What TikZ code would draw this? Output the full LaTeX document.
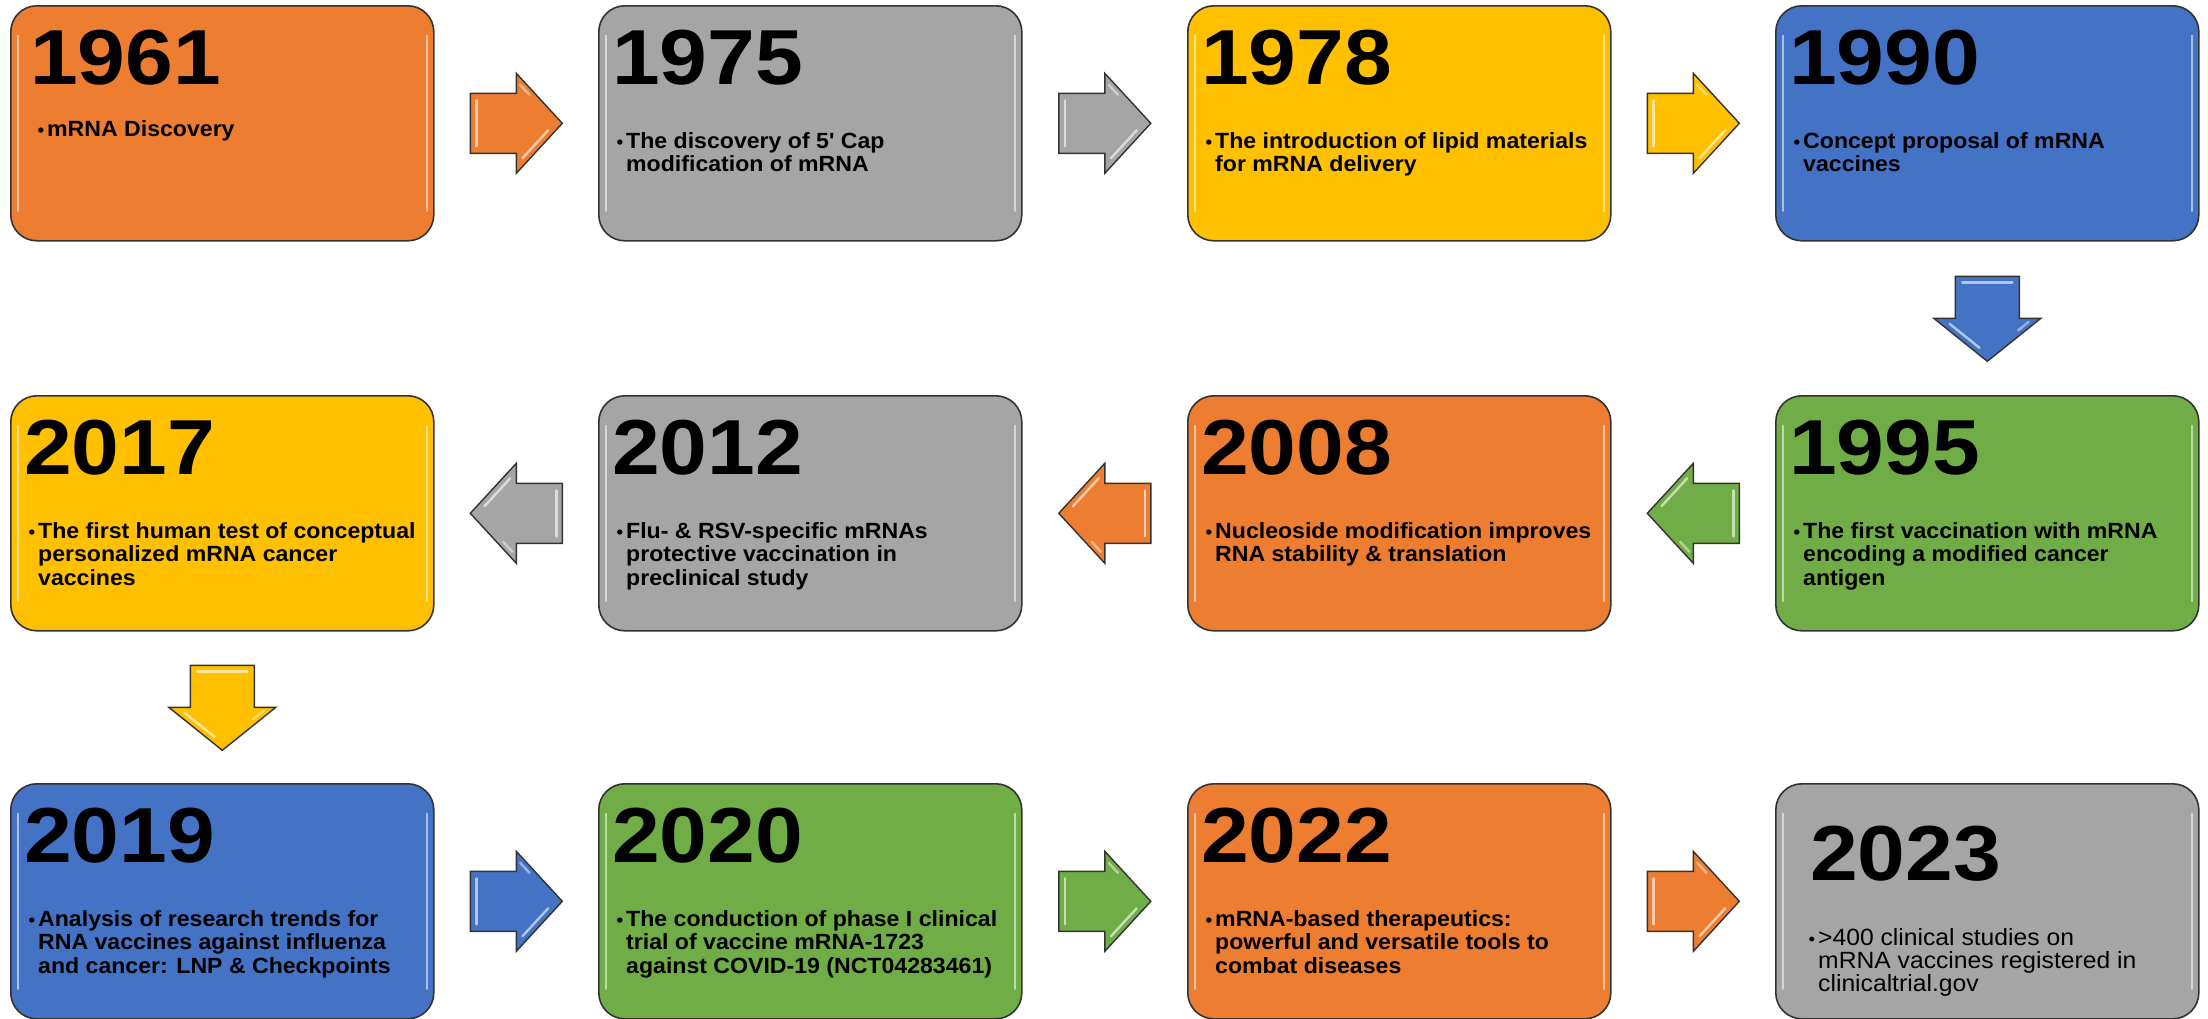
\documentclass[tikz,border=0pt]{standalone}
\usepackage{fontspec}
\setmainfont{Liberation Sans}
\newfontfamily\yearfont{Liberation Sans}[FakeStretch=1.1]
\newfontfamily\bodyfont{Liberation Sans}[FakeStretch=1.05]
\usetikzlibrary{calc}

\definecolor{cOrange}{HTML}{ED7D31}
\definecolor{cGray}{HTML}{A5A5A5}
\definecolor{cGold}{HTML}{FFC000}
\definecolor{cBlue}{HTML}{4472C4}
\definecolor{cGreen}{HTML}{70AD47}

\tikzset{
  card/.style={draw=black!80, line width=1.6pt, rounded corners=26pt,
    minimum width=423pt, minimum height=235pt, inner sep=0pt, anchor=north west,
    path picture={
      \draw[white, opacity=.55, line width=2.6pt, line cap=round]
        ([xshift=7pt,yshift=-30pt]path picture bounding box.north west) --
        ([xshift=7pt,yshift=30pt]path picture bounding box.south west);
      \draw[white, opacity=.55, line width=2.6pt, line cap=round]
        ([xshift=-7pt,yshift=-30pt]path picture bounding box.north east) --
        ([xshift=-7pt,yshift=30pt]path picture bounding box.south east);
    }},
  yearlbl/.style={anchor=base west, inner sep=0pt,
    font=\yearfont\bfseries\fontsize{78}{78}\selectfont},
  note/.style={anchor=north west, inner sep=0pt, align=left,
    font=\bodyfont\bfseries\fontsize{22}{23.5}\selectfont},
  plainnote/.style={anchor=north west, inner sep=0pt, align=left,
    font=\bodyfont\mdseries\fontsize{23.5}{23}\selectfont},
  arrowline/.style={draw=black!80, line width=1.4pt, line join=miter},
  shine/.style={white, opacity=.6, line width=2.4pt, line cap=round}
}

% bullet hanging left of the first line, with a strut fixing the first baseline
\newcommand\itembul{\rule{0pt}{18pt}\llap{\fontsize{18}{18}\selectfont\textbullet\hspace{3pt}}}

% one coloured milestone card: name, x, y, colour, year, year offset, text offset, text
\newcommand\card[8]{%
  \node[card, fill=#4] (#1) at (#2,#3) {};
  \node[yearlbl] (#1-year) at ($(#1.north west)+(#6)$) {#5};
  \node[note] (#1-text) at ($(#1.north west)+(#7)$) {\itembul #8};
}

% bevelled block arrow: centre, rotation, colour, tail length, head length, half width, half shaft
\newcommand\blockarrow[7]{%
  \begin{scope}[shift={(#1)}, rotate=#2]
    \draw[arrowline, fill=#3] (-#4,-#7) -- (0,-#7) -- (0,-#6) -- (#5,0) -- (0,#6) -- (0,#7) -- (-#4,#7) -- cycle;
    \draw[shine] (-#4+6,-#7+7) -- (-#4+6,#7-7);
    \draw[shine] ($(0,#6)!0.22!(#5,0)+(-4,-4)$) -- ($(0,#6)!0.78!(#5,0)+(-4,-4)$);
    \draw[shine, opacity=.45] ($(0,-#6)!0.15!(#5,0)+(-3,4)$) -- ($(0,-#6)!0.35!(#5,0)+(-3,4)$);
  \end{scope}}

\begin{document}
\begin{tikzpicture}[x=1pt, y=-1pt]
  \fill[white] (0,0) rectangle (2208,1018);
  \useasboundingbox (0,0) rectangle (2208,1018);

  % first row
  \card{b1961}{10}{5}{cOrange}{1961}{20,79}{37,113}{mRNA Discovery}
  \card{b1975}{598}{5}{cGray}{1975}{14,79}{28,125}{The discovery of 5' Cap\\modification of mRNA}
  \card{b1978}{1187}{5}{cGold}{1978}{14,79}{28,125}{The introduction of lipid materials\\for mRNA delivery}
  \card{b1990}{1775}{5}{cBlue}{1990}{14,79}{28,125}{Concept proposal of mRNA\\vaccines}

  % second row
  \card{b2017}{10}{395}{cGold}{2017}{14,79}{28,125}{The first human test of conceptual\\personalized mRNA cancer\\vaccines}
  \card{b2012}{598}{395}{cGray}{2012}{14,79}{28,125}{Flu- \& RSV-specific mRNAs\\protective vaccination in\\preclinical study}
  \card{b2008}{1187}{395}{cOrange}{2008}{14,79}{28,125}{Nucleoside modification improves\\RNA stability \& translation}
  \card{b1995}{1775}{395}{cGreen}{1995}{14,79}{28,125}{The first vaccination with mRNA\\encoding a modified cancer\\antigen}

  % third row
  \card{b2019}{10}{783}{cBlue}{2019}{14,79}{28,125}{Analysis of research trends for\\RNA vaccines against influenza\\and cancer: LNP \& Checkpoints}
  \card{b2020}{598}{783}{cGreen}{2020}{14,79}{28,125}{The conduction of phase I clinical\\trial of vaccine mRNA-1723\\against COVID-19 (NCT04283461)}
  \card{b2022}{1187}{783}{cOrange}{2022}{14,79}{28,125}{mRNA-based therapeutics:\\powerful and versatile tools to\\combat diseases}
  \node[card, fill=cGray] (b2023) at (1775,783) {};
  \node[yearlbl] (b2023-year) at ($(b2023.north west)+(35,97)$) {2023};
  \node[plainnote] (b2023-text) at ($(b2023.north west)+(43,144)$)
    {\itembul >400 clinical studies on\\mRNA vaccines registered in\\clinicaltrial.gov};

  % arrow positions between the cards
  \coordinate (a1) at ($(b1961.east)!.5!(b1975.west)$);
  \coordinate (a2) at ($(b1975.east)!.5!(b1978.west)$);
  \coordinate (a3) at ($(b1978.east)!.5!(b1990.west)$);
  \coordinate (a4) at ($(b1990.south)!.5!(b1995.north)$);
  \coordinate (a5) at ($(b1995.west)!.5!(b2008.east)$);
  \coordinate (a6) at ($(b2008.west)!.5!(b2012.east)$);
  \coordinate (a7) at ($(b2012.west)!.5!(b2017.east)$);
  \coordinate (a8) at ($(b2017.south)!.5!(b2019.north)$);
  \coordinate (a9) at ($(b2019.east)!.5!(b2020.west)$);
  \coordinate (a10) at ($(b2020.east)!.5!(b2022.west)$);
  \coordinate (a11) at ($(b2022.east)!.5!(b2023.west)$);

  \blockarrow{a1}{0}{cOrange}{46}{46}{50}{30}
  \blockarrow{a2}{0}{cGray}{46}{46}{50}{30}
  \blockarrow{a3}{0}{cGold}{46}{46}{50}{30}
  \blockarrow{a4}{-90}{cBlue}{42}{43}{53.5}{32}
  \blockarrow{a5}{180}{cGreen}{46}{46}{50}{30}
  \blockarrow{a6}{180}{cOrange}{46}{46}{50}{30}
  \blockarrow{a7}{180}{cGray}{46}{46}{50}{30}
  \blockarrow{a8}{-90}{cGold}{42}{43}{53.5}{32}
  \blockarrow{a9}{0}{cBlue}{46}{46}{50}{30}
  \blockarrow{a10}{0}{cGreen}{46}{46}{50}{30}
  \blockarrow{a11}{0}{cOrange}{46}{46}{50}{30}
\end{tikzpicture}
\end{document}
